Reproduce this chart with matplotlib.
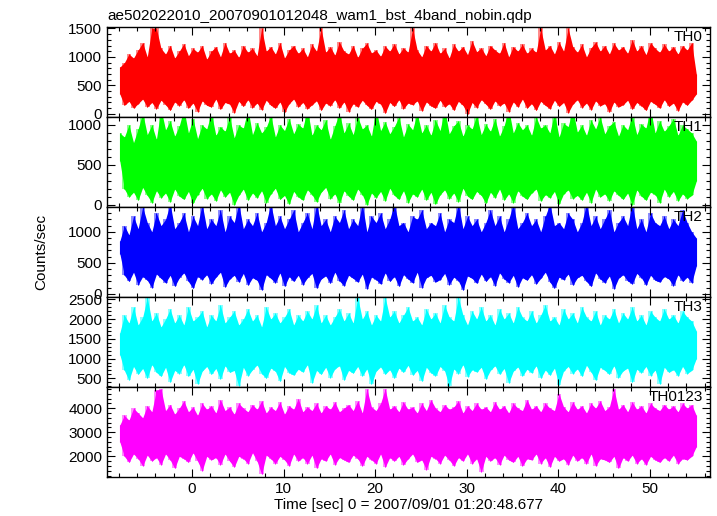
import numpy as np
import matplotlib
matplotlib.use("Agg")
from matplotlib import pyplot as plt
from matplotlib.ticker import MultipleLocator

plt.rcParams['font.family'] = ['Liberation Sans', 'DejaVu Sans']

# time grid of the light curve: first bin and bin width [sec]
t_start = -7.9
t_bin = 0.5

# per bin maximum / minimum counts/sec
th0_hi = [820, 900, 1050, 980, 1120, 1250, 1000, 1500, 1500, 1150,
          1050, 1200, 980, 1100, 1230, 1020, 1150, 1080, 1200, 960,
          1100, 1180, 1000, 1250, 1060, 1120, 990, 1200, 1080, 1150,
          1020, 1500, 1100, 1180, 1050, 1250, 980, 1120, 1200, 1060,
          1150, 1000, 1220, 1100, 1500, 1080, 1180, 1030, 1260, 1100,
          1050, 1200, 990, 1150, 1240, 1070, 1120, 1010, 1190, 1100,
          1230, 1050, 1160, 1080, 1500, 1120, 1000, 1200, 1100, 1250,
          1060, 1150, 980, 1220, 1100, 1180, 1040, 1280, 1090, 1160,
          1020, 1200, 1120, 1060, 1250, 1000, 1180, 1100, 1220, 1060,
          1150, 1080, 1500, 1120, 1200, 1050, 1260, 1100, 1500, 1180,
          1080, 1220, 1000, 1160, 1260, 1100, 1200, 1050, 1240, 1120,
          1180, 1060, 1300, 1100, 1200, 1040, 1250, 1150, 1080, 1220,
          1100, 1180, 1050, 1200, 1120, 1250, 700]
th0_lo = [350, 150, 220, 100, 180, 260, 120, 200, 90, 240,
          160, 60, 210, 140, 250, 100, 190, 40, 230, 150,
          120, 260, 80, 200, 170, 20, 220, 130, 250, 110,
          190, 70, 240, 150, 100, 210, 30, 180, 260, 120,
          200, 90, 160, 230, 60, 190, 140, 250, 100, 210,
          40, 180, 120, 240, 150, 80, 220, 170, 10, 200,
          130, 250, 90, 190, 160, 230, 50, 210, 140, 100,
          240, 120, 180, 60, 220, 150, 0, 200, 110, 250,
          170, 80, 230, 140, 190, 40, 210, 120, 260, 100,
          180, 60, 220, 150, 90, 240, 130, 200, 20, 170,
          250, 110, 190, 70, 230, 140, 180, 30, 210, 120,
          160, 240, 80, 200, 140, 60, 220, 170, 100, 250,
          130, 190, 50, 210, 150, 240, 350]

th1_hi = [900, 850, 1000, 780, 950, 1150, 880, 1000, 820, 1200,
          940, 1050, 860, 990, 1200, 900, 1080, 830, 1000, 950,
          1150, 870, 980, 920, 1100, 840, 1000, 960, 1200, 880,
          1030, 900, 970, 1120, 850, 1000, 930, 1080, 890, 1010,
          960, 1200, 870, 1000, 940, 1060, 820, 990, 1150, 900,
          1020, 880, 1100, 950, 1000, 860, 1200, 930, 1040, 890,
          980, 1100, 850, 1010, 940, 1150, 900, 1000, 870, 1060,
          930, 1200, 890, 990, 1050, 860, 1000, 950, 1120, 880,
          1010, 920, 1080, 860, 990, 1200, 900, 1030, 940, 1000,
          870, 1100, 960, 1000, 900, 1150, 850, 1020, 980, 1200,
          910, 1000, 870, 1060, 950, 1100, 890, 990, 1040, 860,
          1000, 940, 1120, 880, 1010, 960, 1200, 900, 1050, 920,
          990, 1080, 870, 1000, 950, 900, 800]
th1_lo = [550, 200, 100, 160, 60, 220, 120, 30, 180, 90,
          150, 40, 200, 110, 70, 170, 20, 130, 210, 80,
          140, 50, 190, 100, 160, 0, 120, 200, 60, 150,
          90, 180, 30, 140, 210, 70, 120, 10, 170, 100,
          60, 190, 130, 40, 160, 220, 80, 140, 20, 180,
          110, 60, 200, 130, 0, 150, 90, 170, 50, 210,
          120, 70, 180, 30, 140, 100, 200, 60, 160, 10,
          130, 190, 80, 150, 40, 210, 110, 70, 170, 120,
          20, 160, 90, 200, 60, 140, 30, 180, 110, 70,
          150, 200, 50, 130, 90, 170, 10, 140, 190, 80,
          120, 60, 160, 30, 200, 100, 140, 50, 180, 120,
          70, 150, 0, 190, 110, 60, 160, 130, 30, 200,
          100, 170, 50, 140, 80, 120, 300]

th2_hi = [850, 1100, 950, 1250, 1050, 1400, 1150, 1000, 1300, 1100,
          1200, 1450, 1050, 1150, 1300, 1000, 1250, 1100, 1450, 1050,
          1200, 1100, 1350, 1000, 1250, 1150, 1450, 1050, 1200, 1100,
          1300, 1000, 1150, 1450, 1100, 1250, 1050, 1200, 1350, 1000,
          1150, 1300, 1050, 1450, 1100, 1200, 1000, 1250, 1150, 1350,
          1050, 1200, 1100, 1450, 1000, 1250, 1150, 1300, 1050, 1200,
          1450, 1100, 1150, 1000, 1250, 1200, 1350, 1050, 1150, 1100,
          1300, 1000, 1200, 1150, 1450, 1050, 1250, 1100, 1200, 1000,
          1150, 1350, 1100, 1250, 1000, 1200, 1450, 1050, 1150, 1300,
          1100, 1200, 1000, 1250, 1450, 1100, 1150, 1050, 1300, 1200,
          1000, 1150, 1450, 1100, 1250, 1050, 1200, 1350, 1000, 1150,
          1250, 1100, 1450, 1050, 1200, 1000, 1300, 1150, 1100, 1250,
          1050, 1200, 1100, 1350, 1150, 1000, 900]
th2_lo = [650, 300, 200, 350, 150, 280, 220, 100, 320, 250,
          180, 300, 120, 260, 340, 200, 90, 280, 230, 310,
          160, 270, 350, 110, 240, 300, 190, 330, 140, 260,
          220, 60, 310, 250, 180, 340, 120, 280, 200, 300,
          150, 260, 330, 90, 240, 290, 170, 350, 210, 130,
          300, 250, 190, 320, 80, 270, 230, 160, 340, 200,
          280, 120, 310, 240, 180, 350, 100, 260, 300, 190,
          230, 330, 150, 270, 210, 60, 290, 250, 170, 320,
          200, 280, 130, 340, 240, 180, 300, 110, 260, 220,
          310, 160, 250, 350, 190, 90, 270, 230, 320, 140,
          260, 300, 200, 120, 340, 240, 180, 290, 80, 250,
          310, 210, 160, 330, 260, 140, 300, 220, 190, 280,
          240, 130, 310, 200, 270, 180, 450]

th3_hi = [1650, 2100, 1900, 2300, 1850, 2050, 2550, 1950, 2150, 1800,
          2000, 2250, 1900, 2100, 1850, 2300, 1950, 2050, 2200, 1800,
          2100, 1950, 2350, 1900, 2050, 2200, 1850, 2000, 2250, 1950,
          2100, 1800, 2300, 2000, 2150, 1900, 2050, 2250, 1850, 2100,
          1950, 2200, 2000, 2350, 1900, 2100, 1850, 2050, 2250, 1950,
          2150, 1900, 2550, 2000, 2200, 1850, 2100, 1950, 2550, 2050,
          2200, 1900, 2100, 2300, 1950, 2050, 1850, 2250, 2000, 2150,
          1900, 2350, 2050, 1950, 2550, 2100, 1850, 2200, 2000, 2300,
          1950, 2100, 1850, 2250, 2000, 2150, 1900, 2300, 2050, 1950,
          2200, 1900, 2100, 2350, 1950, 2050, 1850, 2250, 2000, 2150,
          1900, 2300, 2050, 1950, 2200, 1850, 2100, 2000, 2250, 1900,
          2150, 2000, 2300, 1950, 2100, 1850, 2200, 2050, 1950, 2250,
          2000, 2100, 1900, 2200, 2050, 1950, 1700]
th3_lo = [1100, 700, 450, 800, 600, 750, 500, 850, 650, 550,
          780, 400, 700, 620, 850, 550, 730, 350, 680, 800,
          600, 750, 480, 820, 650, 700, 300, 780, 560, 720,
          840, 620, 500, 760, 680, 420, 800, 640, 580, 730,
          660, 850, 380, 700, 600, 780, 520, 740, 820, 450,
          700, 630, 800, 560, 740, 350, 680, 790, 600, 720,
          500, 760, 650, 830, 580, 700, 420, 780, 640, 560,
          800, 690, 300, 740, 620, 850, 540, 720, 660, 780,
          480, 700, 820, 600, 750, 380, 680, 790, 560, 730,
          640, 820, 500, 710, 580, 760, 330, 690, 800, 620,
          740, 550, 830, 660, 450, 780, 700, 600, 820, 520,
          690, 760, 400, 730, 640, 800, 570, 710, 350, 780,
          650, 720, 560, 800, 620, 700, 1000]

th0123_hi = [3300, 3700, 3500, 4000, 3800, 3600, 4100, 3850, 4750, 4800,
             3900, 4150, 3750, 4000, 4300, 3850, 4050, 3700, 4200, 3950,
             4100, 3800, 4350, 3900, 4050, 3750, 4200, 4000, 3850, 4150,
             3950, 4300, 3800, 4050, 3900, 4250, 3750, 4100, 3950, 4400,
             3850, 4050, 3900, 4200, 3800, 4100, 3950, 4250, 3850, 4000,
             4150, 3900, 4300, 3800, 4800, 4050, 3900, 4200, 4800, 3950,
             4100, 3850, 4250, 3950, 4050, 3800, 4200, 3900, 4350, 4000,
             3850, 4150, 3950, 4050, 4300, 3800, 4100, 3900, 4200, 3950,
             4050, 3850, 4250, 3950, 4100, 3800, 4200, 4000, 3900, 4350,
             3950, 4100, 3850, 4200, 4000, 3900, 4600, 4050, 3850, 4250,
             3950, 4100, 3800, 4200, 4000, 4300, 3900, 4050, 4800, 3950,
             4150, 3850, 4250, 3950, 4100, 3800, 4200, 4000, 3900, 4150,
             3950, 4100, 3850, 4200, 4000, 4150, 3700]
th0123_lo = [2600, 2000, 1750, 2100, 1900, 1600, 2050, 1800, 1950, 1650,
             2100, 1850, 1500, 2000, 1900, 1750, 2150, 1800, 1400, 2000,
             1850, 1950, 1650, 2100, 1800, 1550, 2000, 1900, 1700, 2150,
             1800, 1250, 2050, 1900, 1700, 2000, 1850, 1600, 2100, 1800,
             1950, 1700, 2050, 1500, 1900, 1800, 2100, 1650, 1950, 1850,
             1750, 2050, 1900, 1600, 2000, 1850, 1700, 2100, 1550, 1950,
             1800, 2000, 1650, 1900, 2100, 1750, 1850, 1450, 2000, 1900,
             1700, 2050, 1850, 1600, 1950, 1800, 2100, 1700, 1900, 1350,
             2000, 1800, 1950, 1650, 2050, 1850, 1750, 2000, 1600, 1900,
             1850, 2100, 1700, 1950, 1550, 2000, 1800, 1900, 1650, 2050,
             1800, 1950, 1700, 2100, 1600, 1900, 1850, 1750, 2000, 1500,
             1950, 1800, 2050, 1700, 1900, 1650, 2000, 1850, 1750, 1950,
             1800, 2050, 1700, 1900, 1850, 2000, 2400]

bands = ['TH0', 'TH1', 'TH2', 'TH3', 'TH0123']
highs = [th0_hi, th1_hi, th2_hi, th3_hi, th0123_hi]
lows = [th0_lo, th1_lo, th2_lo, th3_lo, th0123_lo]
colors = ['#ff0000', '#00ff00', '#0000ff', '#00ffff', '#ff00ff']
ylims = [(-55, 1525), (-25, 1100), (-50, 1400), (280, 2560), (1140, 4880)]
ymajor = [500, 500, 500, 500, 1000]
yminor = [100, 100, 100, 100, 200]

fig, axes = plt.subplots(5, 1, figsize=(7.17, 5.16), dpi=100, sharex=True)
fig.subplots_adjust(left=107/717, right=710/717, top=1-27/516,
                    bottom=1-477/516, hspace=0)

for ax, name, hi, lo, c, yl, ma, mi in zip(axes, bands, highs, lows, colors,
                                          ylims, ymajor, yminor):
    t = t_start + t_bin*np.arange(len(hi))
    # pale fringe: full bin range, then the solid band on top
    ax.fill_between(t, lo, hi, step='mid', color=c, alpha=0.45, lw=0)
    ax.fill_between(t, lo, hi, color=c, lw=0)
    ax.vlines(t, lo, hi, color=c, lw=0.8)
    ax.set_ylim(yl)
    ax.set_xlim(-9.3, 56.6)
    ax.yaxis.set_major_locator(MultipleLocator(ma))
    ax.yaxis.set_minor_locator(MultipleLocator(mi))
    ax.xaxis.set_major_locator(MultipleLocator(10))
    ax.xaxis.set_minor_locator(MultipleLocator(2))
    ax.tick_params(which='both', direction='in', top=True, right=True,
                   labelsize=11, width=0.8)
    ax.tick_params(which='major', length=6)
    ax.tick_params(which='minor', length=3)
    for s in ax.spines.values():
        s.set_linewidth(1.0)
    ax.text(0.988, 0.965, name, transform=ax.transAxes, ha='right', va='top',
            fontsize=11)

axes[-1].set_xticks([0, 10, 20, 30, 40, 50])
fig.text(107/717, 1-20/516, 'ae502022010_20070901012048_wam1_bst_4band_nobin.qdp',
         fontsize=11, ha='left', va='baseline')
fig.text(41/717, 0.5*(1-27/516 + 1-477/516), 'Counts/sec', rotation=90,
         fontsize=11, ha='center', va='center')
fig.text(408/717, 1-509/516, 'Time [sec] 0 = 2007/09/01 01:20:48.677',
         fontsize=11, ha='center', va='baseline')

fig.savefig('out.png', dpi=100)
